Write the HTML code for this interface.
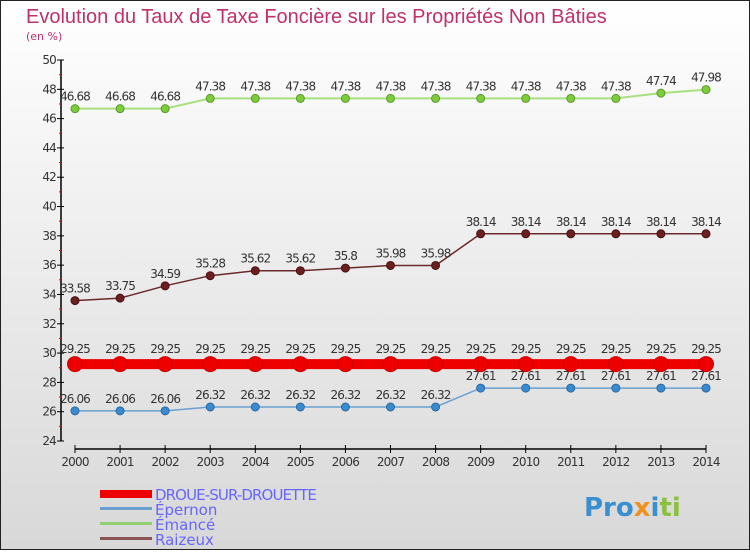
<!DOCTYPE html>
<html><head><meta charset="utf-8"><style>
body{margin:0;width:750px;height:550px;overflow:hidden;font-family:"DejaVu Sans","Liberation Sans",sans-serif;}
svg text{font-family:"DejaVu Sans","Liberation Sans",sans-serif;}
</style></head><body>
<svg id="chart" width="750" height="550" xmlns="http://www.w3.org/2000/svg">
<defs><linearGradient id="bg" x1="0" y1="0" x2="0" y2="1"><stop offset="0" stop-color="#ffffff"/><stop offset="1" stop-color="#d8d8d8"/></linearGradient></defs>
<rect x="0.5" y="0.5" width="749" height="549" fill="url(#bg)" stroke="#222"/>
<text x="26" y="23" font-size="20" fill="#c0306a" style="font-family:'Liberation Sans',sans-serif">Evolution du Taux de Taxe Foncière sur les Propriétés Non Bâties</text>
<text x="26" y="40" font-size="11" fill="#c0306a">(en %)</text>
<g id="axes"></g><g id="series"></g>
<g>
<rect x="100" y="490" width="52" height="8" fill="#e00"/>
<text x="155" y="500" font-size="15" fill="#66f" letter-spacing="-0.9">DROUE-SUR-DROUETTE</text>
<rect x="100" y="507" width="52" height="3" fill="#6aa0d0"/>
<text x="155" y="515" font-size="15" fill="#66f">Épernon</text>
<rect x="100" y="522" width="52" height="3" fill="#90d070"/>
<text x="155" y="530" font-size="15" fill="#66f">Émancé</text>
<rect x="100" y="537" width="52" height="3" fill="#8a5555"/>
<text x="155" y="545" font-size="15" fill="#66f">Raizeux</text>
</g>
<g font-size="26" font-weight="bold">
<text x="584" y="516" fill="#3a8fd0">Pro<tspan fill="#f09020">x</tspan><tspan fill="#3a8fd0">i</tspan><tspan fill="#8cc040">ti</tspan></text>
</g>
</svg>
<script>
const years=[2000,2001,2002,2003,2004,2005,2006,2007,2008,2009,2010,2011,2012,2013,2014];
const yTicks=[24,26,28,30,32,34,36,38,40,42,44,46,48,50];
const droue=[29.25,29.25,29.25,29.25,29.25,29.25,29.25,29.25,29.25,29.25,29.25,29.25,29.25,29.25,29.25];
const epernon=[26.06,26.06,26.06,26.32,26.32,26.32,26.32,26.32,26.32,27.61,27.61,27.61,27.61,27.61,27.61];
const emance=[46.68,46.68,46.68,47.38,47.38,47.38,47.38,47.38,47.38,47.38,47.38,47.38,47.38,47.74,47.98];
const raizeux=[33.58,33.75,34.59,35.28,35.62,35.62,35.8,35.98,35.98,38.14,38.14,38.14,38.14,38.14,38.14];
const NS="http://www.w3.org/2000/svg";
const x0=75,x1=706,yMin=24,yMax=50,py0=441,py1=60;
const xs=i=>x0+(x1-x0)*i/(years.length-1);
const ys=v=>py0-(v-yMin)*(py0-py1)/(yMax-yMin);
function mk(t,a,p){const e=document.createElementNS(NS,t);for(const k in a)e.setAttribute(k,a[k]);p.appendChild(e);return e;}
const ax=document.getElementById('axes');
let l=mk('line',{x1:61,y1:py1,x2:61,y2:py0,stroke:'#000','stroke-width':1.5},ax);


yTicks.forEach((t,i)=>{
 const y=ys(t);
 mk('line',{x1:57,y1:y,x2:64,y2:y,stroke:'#000'},ax);
 if(i<yTicks.length-1){mk('line',{x1:59,y1:ys(t+1),x2:62,y2:ys(t+1),stroke:'#e00'},ax);}
 const tx=mk('text',{x:56,y:y+4,'font-size':12,fill:'#333','text-anchor':'end','letter-spacing':'-0.8'},ax);
 tx.textContent=t;
 
 
});
let xa=mk('line',{x1:x0,y1:449,x2:x1,y2:449,stroke:'#000','stroke-width':1.5},ax);


years.forEach((yr,i)=>{
 const x=xs(i);
 mk('line',{x1:x,y1:445,x2:x,y2:453,stroke:'#000'},ax);
 const tx=mk('text',{x:x,y:466,'font-size':12,fill:'#333','text-anchor':'middle','letter-spacing':'-0.8'},ax);
 tx.textContent=yr;
 
 
});
const sg=document.getElementById('series');
function draw(name,data,color,lw,r,fill,stroke){
 const g=mk('g',{},sg);
 
 
 const pl=mk('polyline',{points:data.map((v,i)=>xs(i)+','+ys(v)).join(' '),fill:'none',stroke:color,'stroke-width':lw},g);
 
 
 data.forEach((v,i)=>{
  const c=mk('circle',{cx:xs(i),cy:ys(v),r:r,fill:fill,stroke:stroke,'stroke-width':1},g);
  
  
  const t=mk('text',{x:xs(i),y:ys(v)-8-(r>5?3:0),'font-size':12,fill:'#333','text-anchor':'middle','letter-spacing':'-0.9'},g);
  t.textContent=String(v);
  
  
 });
}
draw('emance',emance,'#a8e080',2,4,'#7ccc3c','#5a9a2a');
draw('raizeux',raizeux,'#6a2a2a',1.5,4,'#6a2020','#4a1010');
draw('epernon',epernon,'#6aa0d0',1.5,4,'#3a8ad0','#2a6aa0');
draw('droue',droue,'#e00',10,7.5,'#e00','#c00');
</script>
</body></html>
